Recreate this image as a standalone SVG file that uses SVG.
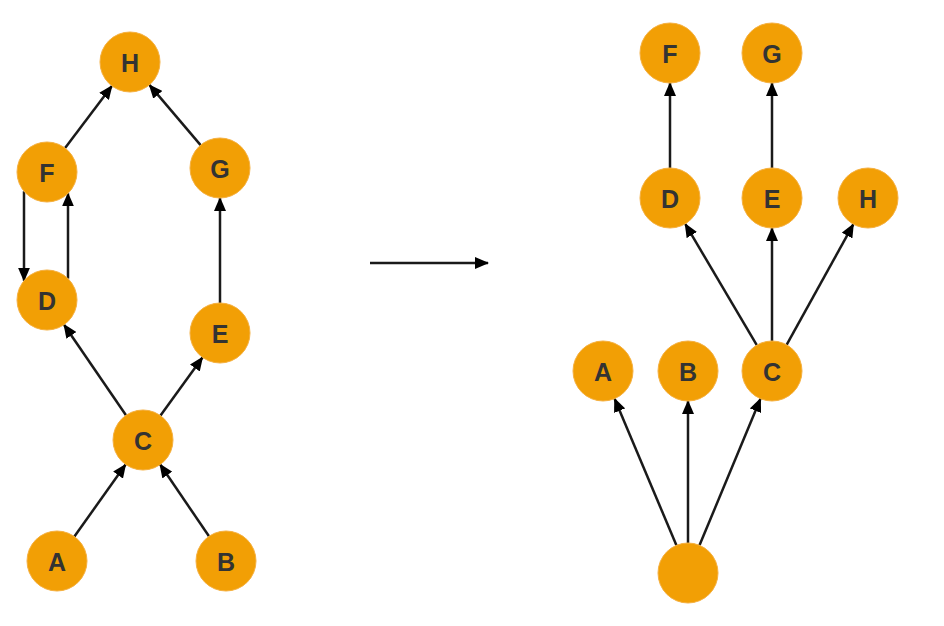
<svg xmlns="http://www.w3.org/2000/svg" width="944" height="626" viewBox="0 0 944 626">
<style>
.n circle{fill:#F29F05;stroke:#F5B040;stroke-width:1}
.n text{font-family:"Liberation Sans",Arial,sans-serif;font-size:25px;font-weight:bold;fill:#333;text-anchor:middle;dominant-baseline:central}
.e line{stroke:#1a1a1a;stroke-width:2.5;marker-end:url(#ah)}
</style>
<defs>
<marker id="ah" markerUnits="userSpaceOnUse" markerWidth="14" markerHeight="12" refX="13" refY="6" orient="auto">
<path d="M0,0 L14,6 L0,12 z" fill="#000"/>
</marker>
</defs>
<rect width="944" height="626" fill="#fff"/>
<g id="connectors" class="e">
<line x1="65.1" y1="148.1" x2="111.9" y2="85.9"/>
<line x1="200.6" y1="145.1" x2="149.4" y2="84.9"/>
<line x1="24" y1="191.3" x2="24" y2="280.7"/>
<line x1="68" y1="278.6" x2="68" y2="193.4"/>
<line x1="220" y1="303" x2="220" y2="198"/>
<line x1="126" y1="415.3" x2="64" y2="324.7"/>
<line x1="160.5" y1="415.6" x2="202.5" y2="357.4"/>
<line x1="74.4" y1="536.5" x2="125.6" y2="464.5"/>
<line x1="209" y1="536.3" x2="160" y2="464.3"/>
<line x1="370" y1="263" x2="488" y2="263"/>
<line x1="670" y1="168" x2="670" y2="83"/>
<line x1="772" y1="168" x2="772" y2="83"/>
<line x1="756.8" y1="345.1" x2="685.2" y2="223.9"/>
<line x1="772" y1="341" x2="772" y2="228"/>
<line x1="786.6" y1="344.8" x2="853.4" y2="224.2"/>
<line x1="676.4" y1="545.3" x2="614.6" y2="398.7"/>
<line x1="688" y1="543" x2="688" y2="401"/>
<line x1="699.5" y1="545.3" x2="760.5" y2="398.7"/>
</g>
<g id="L-H" class="n"><circle cx="130" cy="62" r="30"/><text x="130" y="63">H</text></g>
<g id="L-F" class="n"><circle cx="47" cy="172" r="30"/><text x="47" y="173">F</text></g>
<g id="L-G" class="n"><circle cx="220" cy="168" r="30"/><text x="220" y="169">G</text></g>
<g id="L-D" class="n"><circle cx="47" cy="300" r="30"/><text x="47" y="301">D</text></g>
<g id="L-E" class="n"><circle cx="220" cy="333" r="30"/><text x="220" y="334">E</text></g>
<g id="L-C" class="n"><circle cx="143" cy="440" r="30"/><text x="143" y="441">C</text></g>
<g id="L-A" class="n"><circle cx="57" cy="561" r="30"/><text x="57" y="562">A</text></g>
<g id="L-B" class="n"><circle cx="226" cy="561" r="30"/><text x="226" y="562">B</text></g>
<g id="R-F" class="n"><circle cx="670" cy="53" r="30"/><text x="670" y="54">F</text></g>
<g id="R-G" class="n"><circle cx="772" cy="53" r="30"/><text x="772" y="54">G</text></g>
<g id="R-D" class="n"><circle cx="670" cy="198" r="30"/><text x="670" y="199">D</text></g>
<g id="R-E" class="n"><circle cx="772" cy="198" r="30"/><text x="772" y="199">E</text></g>
<g id="R-H" class="n"><circle cx="868" cy="198" r="30"/><text x="868" y="199">H</text></g>
<g id="R-A" class="n"><circle cx="603" cy="371" r="30"/><text x="603" y="372">A</text></g>
<g id="R-B" class="n"><circle cx="688" cy="371" r="30"/><text x="688" y="372">B</text></g>
<g id="R-C" class="n"><circle cx="772" cy="371" r="30"/><text x="772" y="372">C</text></g>
<g id="R-root" class="n"><circle cx="688" cy="573" r="30"/></g>
</svg>
